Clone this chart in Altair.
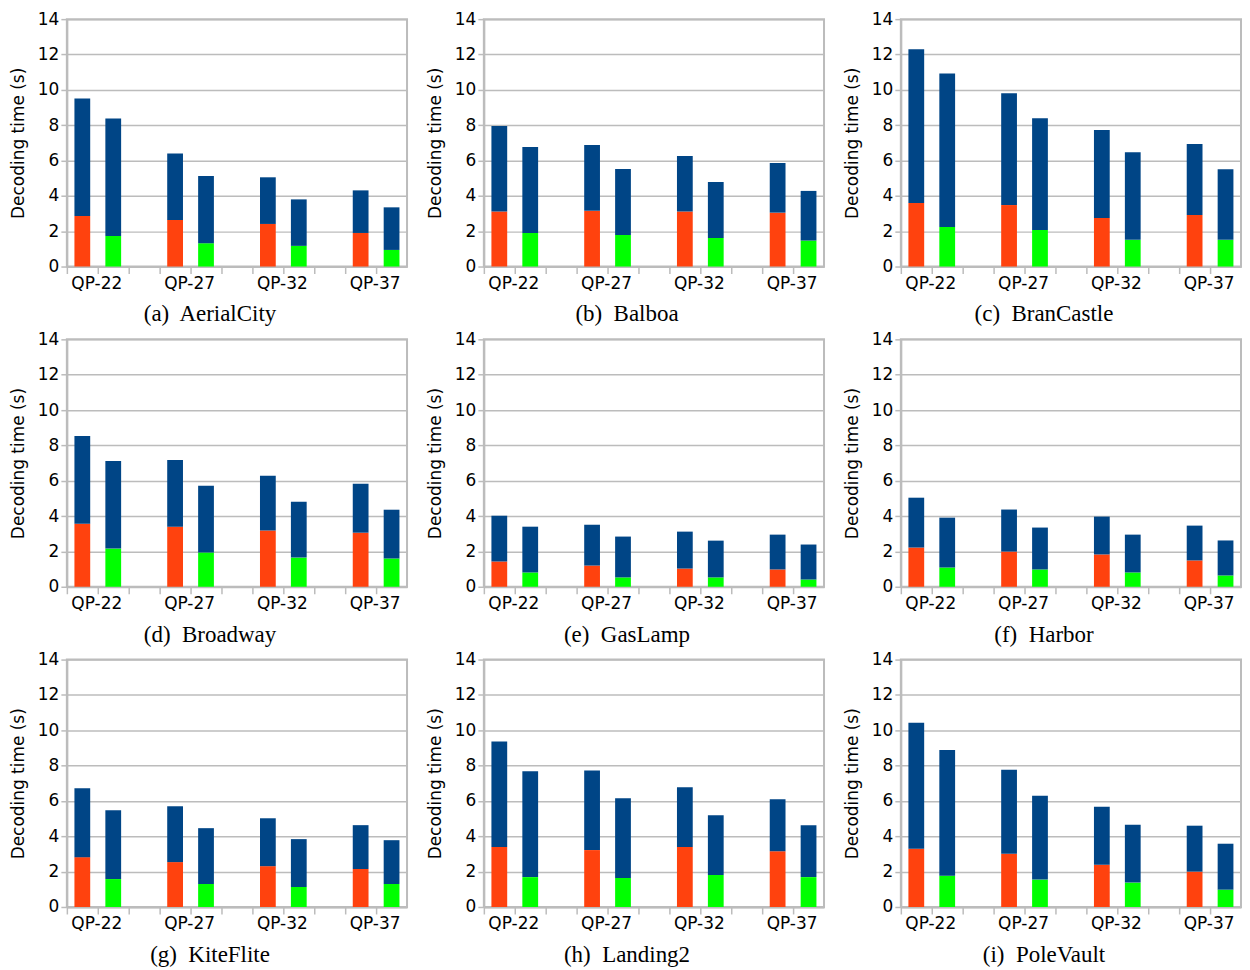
import altair as alt
import pandas as pd

QP = ["QP-22", "QP-27", "QP-32", "QP-37"]
SEQUENCES = ["AerialCity", "Balboa", "BranCastle", "Broadway", "GasLamp",
             "Harbor", "KiteFlite", "Landing2", "PoleVault"]
LETTERS = ["a", "b", "c", "d", "e", "f", "g", "h", "i"]

AerialCity_total1 = [9.51, 6.40, 5.05, 4.31]
AerialCity_orange = [2.86, 2.64, 2.41, 1.90]
AerialCity_total2 = [8.38, 5.12, 3.80, 3.35]
AerialCity_green = [1.73, 1.32, 1.17, 0.94]

Balboa_total1 = [7.95, 6.88, 6.26, 5.86]
Balboa_orange = [3.11, 3.15, 3.11, 3.05]
Balboa_total2 = [6.76, 5.52, 4.79, 4.28]
Balboa_green = [1.90, 1.79, 1.62, 1.47]

BranCastle_total1 = [12.29, 9.80, 7.72, 6.93]
BranCastle_orange = [3.59, 3.48, 2.75, 2.92]
BranCastle_total2 = [10.93, 8.39, 6.47, 5.51]
BranCastle_green = [2.24, 2.07, 1.51, 1.51]

Broadway_total1 = [8.53, 7.18, 6.28, 5.83]
Broadway_orange = [3.57, 3.40, 3.18, 3.06]
Broadway_total2 = [7.12, 5.71, 4.81, 4.36]
Broadway_green = [2.16, 1.94, 1.65, 1.60]

GasLamp_total1 = [4.02, 3.51, 3.12, 2.95]
GasLamp_orange = [1.43, 1.20, 1.03, 0.98]
GasLamp_total2 = [3.40, 2.84, 2.61, 2.39]
GasLamp_green = [0.81, 0.53, 0.53, 0.41]

Harbor_total1 = [5.04, 4.37, 3.97, 3.46]
Harbor_orange = [2.22, 1.99, 1.83, 1.49]
Harbor_total2 = [3.91, 3.35, 2.95, 2.62]
Harbor_green = [1.09, 0.98, 0.81, 0.64]

KiteFlite_total1 = [6.72, 5.70, 5.02, 4.63]
KiteFlite_orange = [2.82, 2.54, 2.31, 2.15]
KiteFlite_total2 = [5.48, 4.46, 3.84, 3.78]
KiteFlite_green = [1.58, 1.30, 1.13, 1.30]

Landing2_total1 = [9.37, 7.73, 6.77, 6.10]
Landing2_orange = [3.39, 3.22, 3.39, 3.16]
Landing2_total2 = [7.68, 6.15, 5.19, 4.63]
Landing2_green = [1.69, 1.64, 1.81, 1.69]

PoleVault_total1 = [10.42, 7.76, 5.67, 4.60]
PoleVault_orange = [3.30, 3.01, 2.39, 2.00]
PoleVault_total2 = [8.89, 6.29, 4.65, 3.58]
PoleVault_green = [1.77, 1.55, 1.38, 0.98]

Y_TICKS = [0, 2, 4, 6, 8, 10, 12, 14]

SERIES = {
    "AerialCity": (AerialCity_total1, AerialCity_orange, AerialCity_total2, AerialCity_green),
    "Balboa": (Balboa_total1, Balboa_orange, Balboa_total2, Balboa_green),
    "BranCastle": (BranCastle_total1, BranCastle_orange, BranCastle_total2, BranCastle_green),
    "Broadway": (Broadway_total1, Broadway_orange, Broadway_total2, Broadway_green),
    "GasLamp": (GasLamp_total1, GasLamp_orange, GasLamp_total2, GasLamp_green),
    "Harbor": (Harbor_total1, Harbor_orange, Harbor_total2, Harbor_green),
    "KiteFlite": (KiteFlite_total1, KiteFlite_orange, KiteFlite_total2, KiteFlite_green),
    "Landing2": (Landing2_total1, Landing2_orange, Landing2_total2, Landing2_green),
    "PoleVault": (PoleVault_total1, PoleVault_orange, PoleVault_total2, PoleVault_green),
}

SLOTS = []
for k, q in enumerate(QP):
    SLOTS += [q + "_1", q + "_2"]
    if k < len(QP) - 1:
        SLOTS.append("gap" + str(k))

PLOT_W = 341
PLOT_H = 248
PAD_INNER = 0.49
STEP = PLOT_W / len(SLOTS)

BLUE = "#004586"
ORANGE = "#ff420e"
GREEN = "#00ff00"
GRID = "#bcbcbc"

rows = []
for seq in SEQUENCES:
    t1, o, t2, g = SERIES[seq]
    for i, q in enumerate(QP):
        rows.append({"seq": seq, "slot": q + "_1", "lo": 0, "hi": o[i], "part": "orange"})
        rows.append({"seq": seq, "slot": q + "_1", "lo": o[i], "hi": t1[i], "part": "blue"})
        rows.append({"seq": seq, "slot": q + "_2", "lo": 0, "hi": g[i], "part": "green"})
        rows.append({"seq": seq, "slot": q + "_2", "lo": g[i], "hi": t2[i], "part": "blue"})
df = pd.DataFrame(rows)


def panel(seq, letter):
    d = df[df.seq == seq].reset_index(drop=True)
    return alt.Chart(
        d,
        title=alt.Title(
            f"({letter})\u00a0 {seq}",
            orient="bottom",
            font="Liberation Serif",
            fontSize=23,
            fontWeight="normal",
            color="#000000",
            offset=12,
            dx=-27,
        ),
    ).mark_bar().encode(
        x=alt.X(
            "slot:N",
            scale=alt.Scale(domain=SLOTS, paddingInner=PAD_INNER, paddingOuter=PAD_INNER / 2),
            axis=alt.Axis(
                title=None,
                bandPosition=0,
                tickOffset=-PAD_INNER * STEP / 2,
                labelExpr="slice(datum.value, -2) == '_1' ? slice(datum.value, 0, 5) : ''",
                labelOffset=STEP * (0.5 + PAD_INNER / 2) - 1.5,
                labelAngle=0,
                labelOverlap=False,
                grid=False,
                tickSize=7,
                labelPadding=2,
            ),
        ),
        y=alt.Y(
            "lo:Q",
            scale=alt.Scale(domain=[0, 14], nice=False),
            axis=alt.Axis(
                values=Y_TICKS,
                title="Decoding time (s)",
                tickSize=6,
                labelPadding=2,
                titlePadding=10,
            ),
        ),
        y2="hi:Q",
        color=alt.Color(
            "part:N",
            scale=alt.Scale(domain=["orange", "green", "blue"], range=[ORANGE, GREEN, BLUE]),
            legend=None,
        ),
    ).properties(width=PLOT_W, height=PLOT_H)


charts = [panel(s, l) for s, l in zip(SEQUENCES, LETTERS)]

chart = alt.concat(
    *charts, columns=3, spacing={"row": 2, "column": 17}
).properties(
    background="white",
    padding={"left": 0, "top": 0, "right": 0, "bottom": 0},
).configure_view(
    stroke=GRID, strokeWidth=2
).configure_axis(
    domainColor=GRID,
    domainWidth=2,
    tickColor=GRID,
    tickWidth=1.5,
    gridColor=GRID,
    gridWidth=1.5,
    labelFont="DejaVu Sans",
    labelFontSize=17,
    labelColor="#000000",
    titleFont="DejaVu Sans",
    titleFontSize=17,
    titleFontWeight="normal",
    titleColor="#000000",
)

chart.save("out.html", embed_options={"renderer": "svg", "actions": False})
